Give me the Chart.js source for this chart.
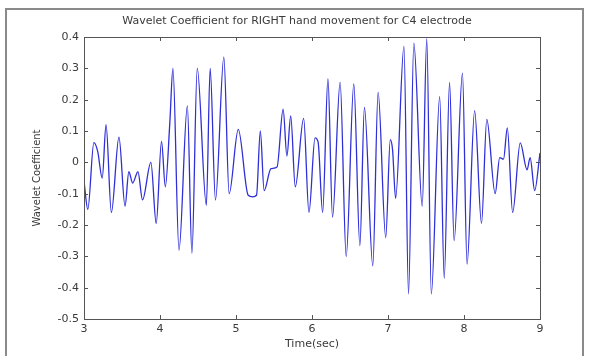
<!DOCTYPE html>
<html>
<head>
<meta charset="utf-8">
<script src="https://cdn.jsdelivr.net/npm/chart.js@4.4.1/dist/chart.umd.min.js"></script>
<style>
  html, body { margin: 0; padding: 0; background: #fff; }
  #wrap { width: 589px; height: 356px; }
</style>
</head>
<body>
<div id="wrap"><canvas id="waveChart" width="589" height="356"></canvas></div>
<script>
// values (turning points of the trace)
const timeSec = [
  3.00, 3.05, 3.13, 3.18, 3.24, 3.29, 3.36, 3.46, 3.54, 3.59, 3.64, 3.71, 3.77, 3.88, 3.95,
  4.02, 4.07, 4.13, 4.17, 4.25, 4.36, 4.42, 4.49, 4.61, 4.66, 4.73, 4.84, 4.91,
  5.03, 5.16, 5.22, 5.27, 5.32, 5.37, 5.46, 5.54, 5.62, 5.67, 5.72, 5.78, 5.89, 5.96,
  6.04, 6.08, 6.14, 6.21, 6.27, 6.37, 6.45, 6.55, 6.63, 6.69, 6.80, 6.87, 6.97,
  7.03, 7.06, 7.10, 7.21, 7.27, 7.34, 7.45, 7.51, 7.57, 7.68, 7.74, 7.81, 7.87, 7.98,
  8.04, 8.14, 8.23, 8.30, 8.41, 8.47, 8.52, 8.57, 8.64, 8.74, 8.83, 8.87, 8.93, 9.00
];
const coeff = [
  -0.06, -0.15, 0.063, 0.035, -0.05, 0.12, -0.16, 0.08, -0.14, -0.03, -0.066, -0.03, -0.12, 0.0, -0.195,
  0.067, -0.078, 0.13, 0.30, -0.28, 0.18, -0.29, 0.30, -0.137, 0.30, -0.12, 0.336, -0.10,
  0.105, -0.105, -0.11, -0.105, 0.10, -0.09, -0.02, -0.015, 0.17, 0.02, 0.148, -0.078, 0.14, -0.16,
  0.078, 0.065, -0.16, 0.266, -0.175, 0.255, -0.30, 0.25, -0.266, 0.175, -0.33, 0.223, -0.24,
  0.072, 0.04, -0.115, 0.37, -0.42, 0.38, -0.14, 0.395, -0.42, 0.21, -0.37, 0.255, -0.25, 0.285,
  -0.325, 0.165, -0.195, 0.137, -0.10, 0.015, 0.01, 0.11, -0.16, 0.062, -0.024, 0.015, -0.09, 0.03
];
const xTicks = [3, 4, 5, 6, 7, 8, 9];
const yTicks = [-0.5, -0.4, -0.3, -0.2, -0.1, 0, 0.1, 0.2, 0.3, 0.4];
const yTickLabels = ["-0.5", "-0.4", "-0.3", "-0.2", "-0.1", "0", "0.1", "0.2", "0.3", "0.4"];
const chartTitle = "Wavelet Coefficient for RIGHT hand movement for C4 electrode";
const xTitle = "Time(sec)";
const yTitle = "Wavelet Coefficient";

const textColor = "#3a3a3a";
const fontFamily = "'DejaVu Sans', sans-serif";

// axes box with inward ticks, outer figure frame and title
const matlabBox = {
  id: "matlabBox",
  afterDraw(chart) {
    const { ctx, chartArea: a, scales } = chart;
    const x = scales.x, y = scales.y;
    ctx.save();
    ctx.strokeStyle = "#555";
    ctx.lineWidth = 1;
    ctx.strokeRect(a.left + 0.5, a.top + 0.5, a.width, a.height);
    ctx.beginPath();
    xTicks.forEach((v) => {
      const px = Math.round(x.getPixelForValue(v)) + 0.5;
      ctx.moveTo(px, a.bottom); ctx.lineTo(px, a.bottom - 4);
      ctx.moveTo(px, a.top); ctx.lineTo(px, a.top + 4);
    });
    yTicks.forEach((v) => {
      const py = Math.round(y.getPixelForValue(v)) + 0.5;
      ctx.moveTo(a.left, py); ctx.lineTo(a.left + 4, py);
      ctx.moveTo(a.right, py); ctx.lineTo(a.right - 4, py);
    });
    ctx.stroke();

    ctx.strokeStyle = "#8a8a8a";
    ctx.lineWidth = 2;
    ctx.strokeRect(6, 9, 577, 352);

    ctx.fillStyle = textColor;
    ctx.font = "11px " + fontFamily;
    ctx.textAlign = "center";
    ctx.textBaseline = "middle";
    ctx.fillText(chartTitle, 297, 21);
    ctx.restore();
  }
};

new Chart(document.getElementById("waveChart"), {
  type: "line",
  data: {
    datasets: [{
      label: yTitle,
      data: timeSec.map((t, i) => ({ x: t, y: coeff[i] })),
      borderColor: "#2f2fd8",
      borderWidth: 1.3,
      pointRadius: 0,
      fill: false,
      cubicInterpolationMode: "monotone"
    }]
  },
  options: {
    responsive: false,
    animation: false,
    layout: { padding: { left: 0, top: 37, right: 49, bottom: 0 } },
    plugins: { legend: { display: false }, tooltip: { enabled: false } },
    scales: {
      x: {
        type: "linear",
        min: 3,
        max: 9,
        afterBuildTicks: (s) => { s.ticks = xTicks.map((v) => ({ value: v })); },
        afterFit: (s) => { s.height = 37; },
        grid: { display: false, drawTicks: false },
        border: { display: false },
        ticks: { color: textColor, font: { family: fontFamily, size: 11 }, padding: 4, maxRotation: 0 },
        title: { display: true, text: xTitle, color: textColor, font: { family: fontFamily, size: 11 }, padding: { top: 0, bottom: 5 } }
      },
      y: {
        min: -0.5,
        max: 0.4,
        afterBuildTicks: (s) => { s.ticks = yTicks.map((v) => ({ value: v })); },
        afterFit: (s) => { s.width = 84; },
        grid: { display: false, drawTicks: false },
        border: { display: false },
        ticks: {
          color: textColor,
          font: { family: fontFamily, size: 11 },
          padding: 5,
          callback: (v) => yTickLabels[yTicks.findIndex((t) => Math.abs(t - v) < 1e-6)]
        },
        title: { display: true, text: yTitle, color: textColor, font: { family: fontFamily, size: 10 }, padding: { top: 31, bottom: 0 } }
      }
    }
  },
  plugins: [matlabBox]
});
</script>
</body>
</html>
